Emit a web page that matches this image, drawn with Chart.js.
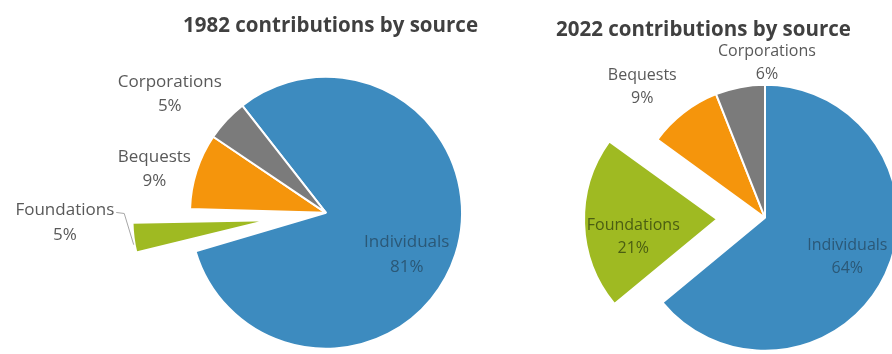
<!DOCTYPE html>
<html>
<head>
<meta charset="utf-8">
<title>Contributions by source</title>
<script src="https://cdn.jsdelivr.net/npm/chart.js@4.4.1/dist/chart.umd.min.js"></script>
<style>
  html, body { margin: 0; padding: 0; background: #fff; }
  body { width: 892px; height: 354px; overflow: hidden; position: relative; }
  canvas { position: absolute; top: 0; }
  #pie1982 { left: 0; }
  #pie2022 { left: 556px; }
</style>
</head>
<body>
<canvas id="pie1982" width="478" height="387"></canvas>
<canvas id="pie2022" width="418" height="393"></canvas>
<script>
// Anteile der Spendenquellen in Prozent
const sources = ['Individuals', 'Foundations', 'Bequests', 'Corporations'];
const share1982 = [81, 5, 9, 5];
const share2022 = [64, 21, 9, 6];

const sliceColors = ['#3d8bbf', '#9fba22', '#f5950c', '#7b7b7b'];
const FONT = "'Open Sans', sans-serif";

// Beschriftung je Segment: [Abstand in Radien, dx, dy]
const place1982 = [[0.67, -6, 14], [1.51, 0, -24], [1.31, -2, 11], [1.44, -13, 15]];
const place2022 = [[0.684, 0, 0], [0.63, 0, 15], [1.346, -13, 11], [1.165, 31, -3]];

// Chart.js vergroessert herausgezogene schmale Segmente, das hier zuruecknehmen
const trimExploded = {
    id: 'trimExploded',
    afterDatasetUpdate(chart, args) {
        args.meta.data.forEach(arc => {
            const shift = (arc.options.offset || 0) / 4;
            if (!shift) return;
            arc.outerRadius -= shift * (1 - Math.sin(Math.min(Math.PI, arc.circumference)));
        });
    }
};

// Name + Prozentwert an jedes Segment schreiben
const sliceLabels = {
    id: 'sliceLabels',
    afterDatasetsDraw(chart, args, opts) {
        const ctx = chart.ctx;
        const meta = chart.getDatasetMeta(0);
        const radius = meta.controller.outerRadius;
        const values = chart.data.datasets[0].data;
        ctx.save();
        ctx.font = `${opts.size}px ${FONT}`;
        ctx.textAlign = 'center';
        ctx.textBaseline = 'middle';
        meta.data.forEach((arc, i) => {
            const mid = (arc.startAngle + arc.endAngle) / 2;
            const shift = (arc.options.offset || 0) / 4;
            const cx = arc.x + Math.cos(mid) * shift;
            const cy = arc.y + Math.sin(mid) * shift;
            const [dist, dx, dy] = opts.place[i];
            const x = cx + Math.cos(mid) * dist * radius + dx;
            const y = cy + Math.sin(mid) * dist * radius + dy;
            const name = chart.data.labels[i];
            ctx.fillStyle = opts.colors[i];
            ctx.fillText(name, x, y - opts.lineGap / 2);
            ctx.fillText(values[i] + '%', x, y + opts.lineGap / 2);
            if (opts.leader && opts.leader[i]) {
                // kurze Fuehrungslinie vom Text zum Segmentrand
                const x0 = x + ctx.measureText(name).width / 2 + 2;
                const y0 = y - opts.lineGap / 2 + 2;
                const ex = cx + Math.cos(mid - 0.05) * (radius + 1);
                const ey = cy + Math.sin(mid - 0.05) * (radius + 1);
                ctx.strokeStyle = '#a6a6a6';
                ctx.lineWidth = 1;
                ctx.beginPath();
                ctx.moveTo(x0, y0);
                ctx.lineTo(x0 + 8, y0 + 1);
                ctx.lineTo(ex, ey);
                ctx.stroke();
            }
        });
        ctx.restore();
    }
};

function makePie(id, title, values, opts) {
    return new Chart(document.getElementById(id), {
        type: 'pie',
        data: {
            labels: sources,
            datasets: [{
                data: values,
                backgroundColor: sliceColors,
                borderColor: '#ffffff',
                borderWidth: 2,
                offset: opts.offset,
                clip: false
            }]
        },
        options: {
            responsive: false,
            animation: false,
            events: [],
            rotation: opts.rotation,
            radius: opts.radius,
            layout: { padding: opts.padding },
            plugins: {
                legend: { display: false },
                tooltip: { enabled: false },
                title: {
                    display: true,
                    text: title,
                    align: opts.titleAlign,
                    color: '#404040',
                    font: { family: FONT, size: 20.5, weight: 'bold' },
                    padding: { top: opts.titleTop, bottom: 0 }
                },
                sliceLabels: {
                    size: opts.fontSize,
                    lineGap: opts.lineGap,
                    place: opts.place,
                    leader: opts.leader,
                    colors: ['#2b5877', opts.foundColor, '#595959', '#595959']
                }
            }
        },
        plugins: [trimExploded, sliceLabels]
    });
}

makePie('pie1982', '1982 contributions by source', share1982, {
    offset: [0, 232, 0, 0],
    rotation: -38,
    radius: 136,
    padding: { left: 174, right: 0, top: 0, bottom: 0 },
    titleAlign: 'end',
    titleTop: 14,
    fontSize: 17,
    lineGap: 24.5,
    place: place1982,
    leader: [false, true, false, false],
    foundColor: '#595959'
});

makePie('pie2022', '2022 contributions by source', share2022, {
    offset: [0, 192, 0, 0],
    rotation: 0,
    radius: 133,
    padding: 0,
    titleAlign: 'start',
    titleTop: 18,
    fontSize: 16,
    lineGap: 23,
    place: place2022,
    leader: null,
    foundColor: '#4b5e12'
});
</script>
</body>
</html>
